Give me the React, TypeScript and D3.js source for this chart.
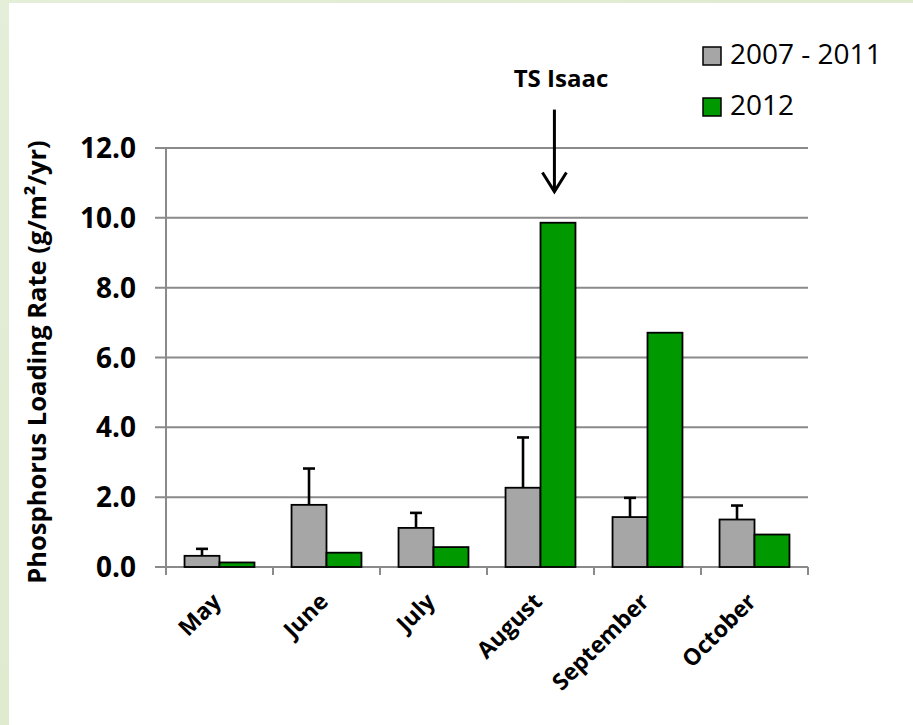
import React from 'react';
import * as d3 from 'd3';

const months = ['May', 'June', 'July', 'August', 'September', 'October'];
const seriesNames = ['2007 - 2011', '2012'];
const avg0711 = [0.32, 1.78, 1.12, 2.27, 1.43, 1.36];
const err0711 = [0.2, 1.04, 0.43, 1.44, 0.55, 0.4];
const val2012 = [0.13, 0.41, 0.57, 9.86, 6.71, 0.93];
const yTicks = [0, 2, 4, 6, 8, 10, 12];
const seriesColors = ['#A6A6A6', '#009900'];
const annotation = 'TS Isaac';
const annotationMonth = 'August';

const W = 913;
const H = 725;
const FONT = "'Open Sans', 'Noto Sans', sans-serif";

export default function App() {
  const x = d3.scaleBand<string>().domain(months).range([166, 808]).paddingInner(0).paddingOuter(0);
  const inner = d3.scaleBand<string>().domain(seriesNames).range([0, x.bandwidth()]).paddingInner(0).paddingOuter(0.53);
  const y = d3.scaleLinear().domain([0, 12]).range([567, 148]);
  const bw = inner.bandwidth();
  const data = [avg0711, val2012];

  const ax = (x(annotationMonth) ?? 0) + x.bandwidth() * 0.63;

  return (
    <div style={{ position: 'fixed', left: 0, top: 0 }}>
      <svg width={W} height={H} style={{ display: 'block' }}>
        <defs>
          <linearGradient id="bg" x1="0" y1="0" x2="1" y2="1">
            <stop offset="0" stopColor="#e4eed8" />
            <stop offset="0.5" stopColor="#dfeacf" />
            <stop offset="1" stopColor="#e8f0de" />
          </linearGradient>
        </defs>
        <rect x={0} y={0} width={W} height={H} fill="url(#bg)" />
        <rect x={9} y={3} width={W - 9} height={H - 3} fill="#ffffff" />

        {/* gridlines */}
        {yTicks.map((t) => (
          <line key={'g' + t} x1={155} x2={808} y1={y(t)} y2={y(t)} stroke="#8a8a8a" strokeWidth={2} />
        ))}
        {/* y axis */}
        <line x1={166} x2={166} y1={y(12)} y2={y(0) + 8} stroke="#8a8a8a" strokeWidth={2} />
        {/* x ticks */}
        {months.map((m) => (
          <line key={'xt' + m} x1={(x(m) ?? 0) + x.bandwidth()} x2={(x(m) ?? 0) + x.bandwidth()} y1={y(0)} y2={y(0) + 8} stroke="#8a8a8a" strokeWidth={2} />
        ))}

        {/* y tick labels */}
        {yTicks.map((t) => (
          <text key={'yl' + t} x={136} y={y(t)} dy="0.36em" textAnchor="end" fontFamily={FONT} fontWeight="bold" fontSize={28} fill="#000">
            {t.toFixed(1)}
          </text>
        ))}

        {/* bars */}
        {months.map((m, i) => (
          <g key={'b' + m} transform={`translate(${x(m)},0)`}>
            {seriesNames.map((s, si) => (
              <rect
                key={s}
                x={inner(s)}
                y={y(data[si][i])}
                width={bw}
                height={y(0) - y(data[si][i])}
                fill={seriesColors[si]}
                stroke="#000"
                strokeWidth={1.8}
              />
            ))}
            {/* error bar */}
            <line
              x1={(inner(seriesNames[0]) ?? 0) + bw / 2}
              x2={(inner(seriesNames[0]) ?? 0) + bw / 2}
              y1={y(avg0711[i])}
              y2={y(avg0711[i] + err0711[i])}
              stroke="#000"
              strokeWidth={2.6}
            />
            <line
              x1={(inner(seriesNames[0]) ?? 0) + bw / 2 - 6}
              x2={(inner(seriesNames[0]) ?? 0) + bw / 2 + 6}
              y1={y(avg0711[i] + err0711[i])}
              y2={y(avg0711[i] + err0711[i])}
              stroke="#000"
              strokeWidth={2.6}
            />
          </g>
        ))}

        {/* x labels */}
        {months.map((m) => (
          <text
            key={'xl' + m}
            transform={`translate(${(x(m) ?? 0) + x.bandwidth() / 2 + 3},603) rotate(-45)`}
            textAnchor="end"
            fontFamily={FONT}
            fontWeight="bold"
            fontSize={23}
            fill="#000"
          >
            {m}
          </text>
        ))}

        {/* y title */}
        <text transform="translate(46,362) rotate(-90)" textAnchor="middle" fontFamily={FONT} fontWeight="bold" fontSize={25.5} fill="#000">
          Phosphorus Loading Rate (g/m²/yr)
        </text>

        {/* annotation */}
        <text x={561} y={87} textAnchor="middle" fontFamily={FONT} fontWeight="bold" fontSize={24} fill="#000">
          {annotation}
        </text>
        <line x1={ax} x2={ax} y1={y(13.1)} y2={y(10.75)} stroke="#000" strokeWidth={3} />
        <polyline
          points={`${ax - 12},${y(11.3)} ${ax},${y(10.75)} ${ax + 12},${y(11.3)}`}
          fill="none"
          stroke="#000"
          strokeWidth={3}
        />

        {/* legend */}
        {seriesNames.map((s, si) => (
          <g key={'lg' + s} transform={`translate(703,${47 + si * 51})`}>
            <rect x={0} y={0} width={18} height={18} fill={seriesColors[si]} stroke="#000" strokeWidth={1.5} />
            <text x={27} y={17} fontFamily={FONT} fontSize={28} fill="#000">
              {s}
            </text>
          </g>
        ))}
      </svg>
    </div>
  );
}
